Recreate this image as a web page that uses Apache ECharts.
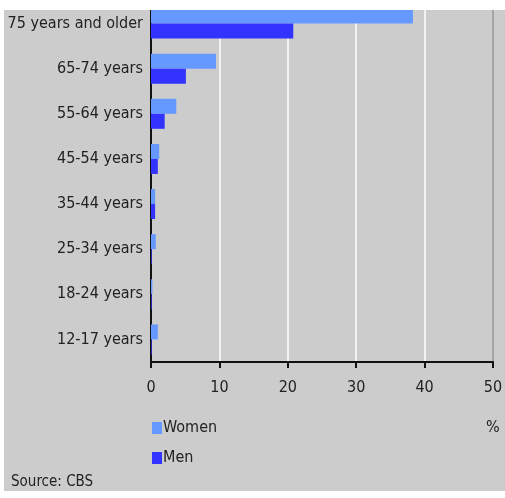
<!DOCTYPE html>
<html>
<head>
<meta charset="utf-8">
<script src="https://cdn.jsdelivr.net/npm/echarts@6/dist/echarts.min.js"></script>
<style>
    html, body { margin: 0; padding: 0; background: #fff; }
    #chart { width: 505px; height: 498px; }
</style>
</head>
<body>
<div id="chart"></div>
<script>
// age groups, top to bottom
var ageGroups = ['75 years and older', '65-74 years', '55-64 years', '45-54 years',
    '35-44 years', '25-34 years', '18-24 years', '12-17 years'];
// percent
var women = [38.3, 9.5, 3.7, 1.2, 0.6, 0.7, 0.2, 1.0];
var men = [20.8, 5.1, 2.0, 1.0, 0.6, 0.1, 0.1, 0.1];
var xTicks = [0, 10, 20, 30, 40, 50];

function initChart(id) {
    var chart = echarts.init(document.getElementById(id));
    var font = '"DejaVu Sans Condensed", "Liberation Sans"';
    var option = {
        backgroundColor: '#cccccc',
        animation: false,
        textStyle: { fontFamily: font },
        grid: { left: 151, right: 12, top: 1, bottom: 136, containLabel: false, outerBoundsMode: 'none' },
        legend: {
            orient: 'vertical',
            left: 147,
            top: 415,
            itemWidth: 10,
            itemHeight: 12,
            itemGap: 14,
            icon: 'rect',
            data: ['Women', 'Men'],
            textStyle: { fontFamily: font, fontSize: 16, color: '#222', padding: [0, 0, 0, -4] }
        },
        xAxis: {
            type: 'value',
            min: xTicks[0],
            max: xTicks[xTicks.length - 1],
            interval: 10,
            axisLine: { show: true, lineStyle: { color: '#111', width: 2 } },
            axisTick: { show: true, length: 6, lineStyle: { color: '#111', width: 2 } },
            axisLabel: { color: '#222', fontSize: 16, margin: 18 },
            splitLine: { show: true, showMinLine: false, showMaxLine: false, lineStyle: { color: '#ffffff', width: 1.5 } }
        },
        yAxis: [
            {
                type: 'category',
                inverse: true,
                data: ageGroups,
                axisLine: { show: true, lineStyle: { color: '#111', width: 2 } },
                axisTick: { show: false },
                axisLabel: { color: '#222', fontSize: 16, margin: 8 }
            },
            {
                // right border of the plot
                type: 'category',
                position: 'right',
                inverse: true,
                data: ageGroups,
                axisLine: { show: true, onZero: false, lineStyle: { color: '#999999', width: 1.5 } },
                axisTick: { show: false },
                axisLabel: { show: false },
                splitLine: { show: false }
            }
        ],
        graphic: [
            { type: 'rect', z: 100, shape: { x: 0, y: 0, width: 505, height: 10 }, style: { fill: '#fff' } },
            { type: 'rect', z: 100, shape: { x: 0, y: 0, width: 4, height: 498 }, style: { fill: '#fff' } },
            { type: 'rect', z: 100, shape: { x: 0, y: 491, width: 505, height: 7 }, style: { fill: '#fff' } },
            { type: 'text', z: 100, left: 486, top: 420, style: { text: '%', font: '16px ' + font, fill: '#222' } },
            { type: 'text', z: 100, left: 11, top: 475, style: { text: 'Source: CBS', font: '15px ' + font, fill: '#222' } }
        ],
        series: [
            {
                name: 'Women',
                type: 'bar',
                data: women,
                barWidth: 15,
                barGap: '0%',
                itemStyle: { color: '#6699ff' }
            },
            {
                name: 'Men',
                type: 'bar',
                data: men,
                barWidth: 15,
                barGap: '0%',
                itemStyle: { color: '#3333ff' }
            }
        ]
    };
    chart.setOption(option);
}

initChart('chart');
</script>
</body>
</html>
